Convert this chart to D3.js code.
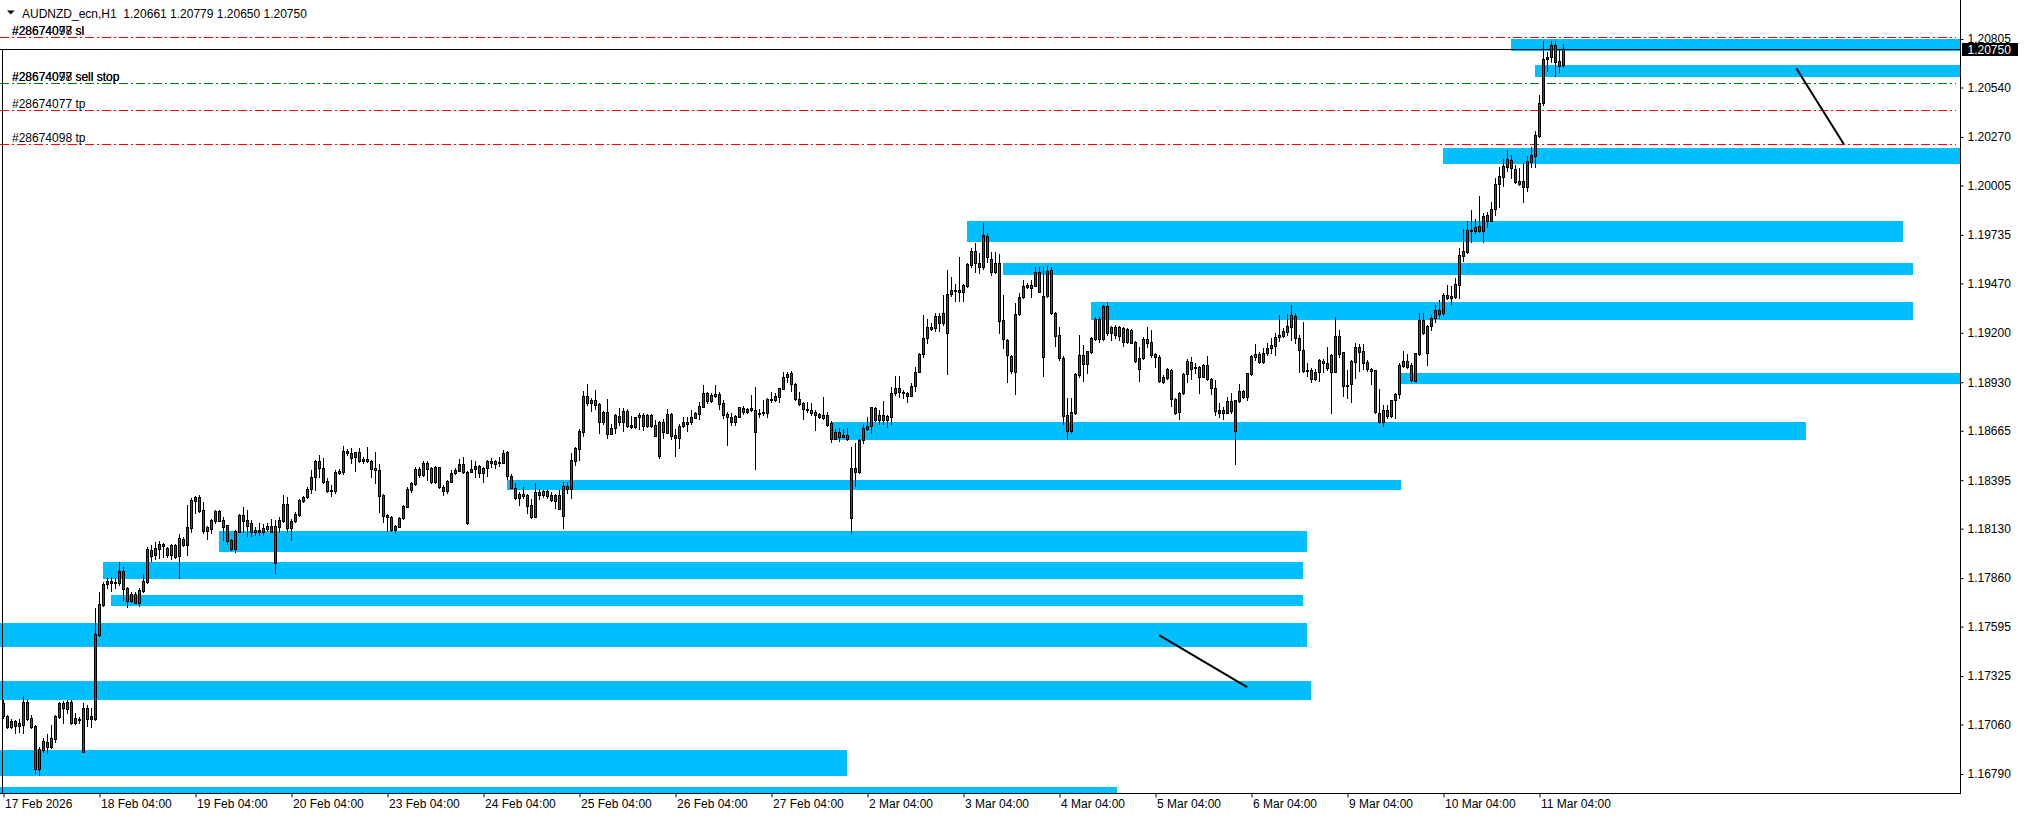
<!DOCTYPE html>
<html>
<head>
<meta charset="utf-8">
<script src="https://cdn.jsdelivr.net/npm/d3@7"></script>
<style>
body { margin: 0; background: #fff; }
svg { display: block; font-family: "Liberation Sans", Arial, sans-serif; font-size: 12px; }
</style>
</head>
<body>
<svg id="chart" width="2024" height="817"></svg>
<script>
// AUDNZD_ecn H1, 391 bars from 17 Feb 04:00 to 11 Mar 10:00
const open = [
1.17176,1.17108,1.17048,1.17080,1.17054,1.17059,1.17183,1.17094,1.17052,1.16815,
1.16921,1.16937,1.16939,1.16983,1.17103,1.17176,1.17147,1.17183,1.17067,1.17087,
1.16912,1.17149,1.17092,1.17090,1.17549,1.17713,1.17826,1.17835,1.17840,1.17831,
1.17899,1.17806,1.17737,1.17773,1.17726,1.17791,1.17840,1.18013,1.17986,1.18019,
1.18035,1.18024,1.17988,1.18041,1.17982,1.18075,1.18043,1.18136,1.18283,1.18305,
1.18232,1.18119,1.18130,1.18174,1.18227,1.18177,1.18150,1.18068,1.18021,1.18114,
1.18205,1.18177,1.18159,1.18114,1.18123,1.18114,1.18130,1.18147,1.17944,1.18141,
1.18174,1.18265,1.18136,1.18172,1.18205,1.18283,1.18302,1.18347,1.18411,1.18500,
1.18460,1.18392,1.18338,1.18337,1.18436,1.18442,1.18554,1.18542,1.18520,1.18549,
1.18509,1.18500,1.18500,1.18459,1.18451,1.18314,1.18205,1.18192,1.18123,1.18141,
1.18188,1.18250,1.18341,1.18374,1.18454,1.18423,1.18487,1.18460,1.18387,1.18465,
1.18357,1.18337,1.18387,1.18432,1.18447,1.18482,1.18159,1.18442,1.18454,1.18472,
1.18436,1.18460,1.18487,1.18498,1.18491,1.18490,1.18547,1.18420,1.18354,1.18296,
1.18320,1.18313,1.18259,1.18196,1.18314,1.18314,1.18336,1.18314,1.18283,1.18314,
1.18201,1.18363,1.18348,1.18501,1.18565,1.18660,1.18855,1.18818,1.18833,1.18811,
1.18711,1.18767,1.18649,1.18678,1.18746,1.18714,1.18771,1.18687,1.18687,1.18738,
1.18751,1.18693,1.18749,1.18696,1.18528,1.18712,1.18654,1.18755,1.18642,1.18627,
1.18689,1.18702,1.18711,1.18736,1.18756,1.18796,1.18871,1.18827,1.18857,1.18868,
1.18817,1.18756,1.18742,1.18714,1.18742,1.18789,1.18769,1.18778,1.18778,1.18756,
1.18760,1.18764,1.18833,1.18833,1.18851,1.18895,1.18957,1.18979,1.18920,1.18837,
1.18815,1.18782,1.18778,1.18767,1.18755,1.18736,1.18749,1.18707,1.18622,1.18659,
1.18642,1.18642,1.18190,1.18460,1.18442,1.18614,1.18675,1.18693,1.18789,1.18724,
1.18751,1.18724,1.18742,1.18870,1.18897,1.18875,1.18871,1.18857,1.18911,1.18988,
1.19083,1.19173,1.19230,1.19228,1.19294,1.19252,1.19201,1.19412,1.19434,1.19425,
1.19425,1.19457,1.19570,1.19647,1.19580,1.19558,1.19729,1.19605,1.19534,1.19583,
1.19270,1.19161,1.19074,1.18988,1.19301,1.19393,1.19452,1.19461,1.19457,1.19534,
1.19070,1.19401,1.19543,1.19307,1.19188,1.19064,1.18751,1.18662,1.18760,1.18969,
1.19079,1.19028,1.19097,1.19166,1.19274,1.19166,1.19346,1.19197,1.19230,1.19184,
1.19228,1.19152,1.19215,1.19150,1.19001,1.19061,1.19166,1.19150,1.19083,1.19070,
1.18933,1.18955,1.18997,1.18837,1.18769,1.18870,1.18975,1.19042,1.19006,1.19013,
1.18960,1.19024,1.18948,1.18897,1.18778,1.18764,1.18764,1.18827,1.18665,1.18829,
1.18882,1.18848,1.18975,1.19070,1.19084,1.19042,1.19088,1.19115,1.19130,1.19176,
1.19184,1.19206,1.19233,1.19292,1.19170,1.19106,1.18997,1.18997,1.18946,1.18988,
1.19046,1.19033,1.18988,1.18988,1.19182,1.19094,1.18911,1.18919,1.19042,1.19124,
1.19101,1.19039,1.19002,1.18997,1.18764,1.18714,1.18778,1.18747,1.18833,1.18866,
1.19020,1.19046,1.19024,1.18938,1.19083,1.19270,1.19088,1.19237,1.19281,1.19325,
1.19308,1.19407,1.19401,1.19397,1.19461,1.19621,1.19640,1.19762,1.19758,1.19783,
1.19758,1.19844,1.19813,1.19876,1.20011,1.20053,1.20107,1.20144,1.20095,1.20029,
1.20029,1.19995,1.20135,1.20167,1.20277,1.20454,1.20694,1.20705,1.20772,1.20685,
1.20661];

const high = [
1.17194,1.17115,1.17090,1.17085,1.17090,1.17216,1.17194,1.17112,1.17055,1.16937,
1.16987,1.17007,1.17058,1.17112,1.17185,1.17189,1.17194,1.17194,1.17121,1.17103,
1.17179,1.17167,1.17149,1.17695,1.17782,1.17840,1.17868,1.17868,1.17859,1.17948,
1.17921,1.17813,1.17784,1.17784,1.17806,1.17882,1.18032,1.18041,1.18059,1.18064,
1.18050,1.18032,1.18046,1.18046,1.18101,1.18083,1.18259,1.18296,1.18309,1.18314,
1.18276,1.18145,1.18181,1.18232,1.18232,1.18196,1.18152,1.18073,1.18123,1.18208,
1.18250,1.18232,1.18177,1.18141,1.18159,1.18155,1.18159,1.18181,1.18177,1.18196,
1.18314,1.18301,1.18183,1.18223,1.18292,1.18309,1.18358,1.18451,1.18505,1.18533,
1.18514,1.18405,1.18368,1.18451,1.18454,1.18582,1.18565,1.18569,1.18551,1.18569,
1.18523,1.18578,1.18505,1.18551,1.18483,1.18319,1.18210,1.18199,1.18150,1.18196,
1.18259,1.18356,1.18387,1.18469,1.18465,1.18501,1.18500,1.18469,1.18472,1.18469,
1.18368,1.18396,1.18451,1.18460,1.18510,1.18520,1.18445,1.18505,1.18500,1.18478,
1.18467,1.18505,1.18514,1.18505,1.18520,1.18560,1.18554,1.18429,1.18378,1.18332,
1.18360,1.18320,1.18291,1.18378,1.18345,1.18341,1.18341,1.18330,1.18319,1.18341,
1.18387,1.18384,1.18542,1.18578,1.18675,1.18882,1.18920,1.18842,1.18888,1.18817,
1.18773,1.18837,1.18702,1.18755,1.18788,1.18788,1.18782,1.18746,1.18742,1.18760,
1.18760,1.18756,1.18756,1.18724,1.18718,1.18727,1.18784,1.18764,1.18673,1.18702,
1.18742,1.18742,1.18778,1.18767,1.18824,1.18915,1.18878,1.18873,1.18915,1.18878,
1.18833,1.18769,1.18764,1.18751,1.18796,1.18800,1.18788,1.18860,1.18906,1.18782,
1.18833,1.18844,1.18876,1.18870,1.18900,1.18985,1.18988,1.18992,1.18926,1.18877,
1.18824,1.18824,1.18815,1.18778,1.18764,1.18851,1.18766,1.18716,1.18673,1.18678,
1.18673,1.18678,1.18578,1.18600,1.18620,1.18702,1.18742,1.18796,1.18796,1.18778,
1.18827,1.18751,1.18906,1.18964,1.18964,1.18888,1.18878,1.18924,1.19015,1.19088,
1.19297,1.19276,1.19252,1.19310,1.19306,1.19406,1.19543,1.19507,1.19465,1.19616,
1.19465,1.19583,1.19662,1.19689,1.19634,1.19798,1.19743,1.19643,1.19643,1.19630,
1.19406,1.19166,1.19079,1.19361,1.19416,1.19489,1.19474,1.19489,1.19561,1.19561,
1.19561,1.19565,1.19561,1.19314,1.19233,1.19073,1.18842,1.18842,1.18979,1.19188,
1.19133,1.19103,1.19179,1.19285,1.19288,1.19352,1.19370,1.19237,1.19243,1.19237,
1.19233,1.19228,1.19219,1.19157,1.19124,1.19176,1.19233,1.19215,1.19088,1.19079,
1.18969,1.19006,1.19002,1.18842,1.18875,1.18979,1.19055,1.19070,1.19033,1.19020,
1.19030,1.19073,1.18951,1.18942,1.18815,1.18793,1.18851,1.18870,1.18835,1.18920,
1.18888,1.18982,1.19079,1.19137,1.19097,1.19115,1.19146,1.19170,1.19197,1.19297,
1.19225,1.19303,1.19352,1.19306,1.19188,1.19261,1.19033,1.19006,1.19002,1.19055,
1.19055,1.19124,1.19083,1.19285,1.19215,1.19097,1.18997,1.19051,1.19143,1.19139,
1.19139,1.19051,1.19006,1.18999,1.18893,1.18806,1.18806,1.18835,1.18873,1.19033,
1.19101,1.19083,1.19033,1.19091,1.19306,1.19306,1.19243,1.19297,1.19352,1.19379,
1.19417,1.19461,1.19456,1.19498,1.19662,1.19767,1.19812,1.19871,1.19820,1.19947,
1.19856,1.19858,1.19916,1.20044,1.20107,1.20148,1.20199,1.20171,1.20117,1.20099,
1.20126,1.20166,1.20217,1.20302,1.20499,1.20796,1.20736,1.20794,1.20794,1.20749,
1.20779];

const low = [
1.17096,1.17041,1.17041,1.17012,1.17021,1.17015,1.17085,1.17041,1.16794,1.16785,
1.16910,1.16906,1.16932,1.16966,1.17098,1.17070,1.17121,1.17063,1.17063,1.17067,
1.16910,1.17054,1.17048,1.17085,1.17543,1.17708,1.17804,1.17791,1.17804,1.17822,
1.17740,1.17704,1.17731,1.17722,1.17708,1.17784,1.17833,1.17955,1.17964,1.17972,
1.17977,1.17977,1.17967,1.17972,1.17862,1.18035,1.17986,1.18114,1.18216,1.18221,
1.18109,1.18072,1.18109,1.18159,1.18172,1.18068,1.18046,1.18013,1.18004,1.18112,
1.18114,1.18090,1.18092,1.18096,1.18096,1.18096,1.18119,1.18112,1.17886,1.18114,
1.18166,1.18114,1.18068,1.18166,1.18199,1.18274,1.18298,1.18324,1.18341,1.18414,
1.18380,1.18330,1.18310,1.18324,1.18429,1.18427,1.18533,1.18487,1.18445,1.18494,
1.18490,1.18494,1.18414,1.18381,1.18223,1.18165,1.18119,1.18120,1.18105,1.18139,
1.18183,1.18248,1.18332,1.18369,1.18414,1.18418,1.18396,1.18380,1.18380,1.18352,
1.18314,1.18324,1.18385,1.18429,1.18445,1.18434,1.18155,1.18440,1.18411,1.18411,
1.18387,1.18420,1.18469,1.18460,1.18474,1.18489,1.18401,1.18352,1.18290,1.18259,
1.18296,1.18214,1.18190,1.18194,1.18290,1.18305,1.18296,1.18281,1.18241,1.18238,
1.18136,1.18324,1.18299,1.18478,1.18505,1.18636,1.18806,1.18775,1.18782,1.18654,
1.18702,1.18627,1.18647,1.18651,1.18696,1.18665,1.18684,1.18678,1.18678,1.18673,
1.18669,1.18684,1.18687,1.18636,1.18516,1.18627,1.18653,1.18618,1.18527,1.18571,
1.18685,1.18664,1.18702,1.18733,1.18729,1.18795,1.18815,1.18822,1.18851,1.18784,
1.18736,1.18587,1.18696,1.18696,1.18740,1.18756,1.18760,1.18773,1.18456,1.18742,
1.18751,1.18742,1.18824,1.18828,1.18824,1.18893,1.18933,1.18884,1.18833,1.18806,
1.18729,1.18769,1.18751,1.18669,1.18735,1.18727,1.18691,1.18605,1.18620,1.18611,
1.18631,1.18614,1.18105,1.18365,1.18436,1.18600,1.18669,1.18654,1.18718,1.18702,
1.18702,1.18687,1.18702,1.18860,1.18851,1.18845,1.18824,1.18855,1.18884,1.18985,
1.19070,1.19146,1.19215,1.19210,1.19210,1.19243,1.18975,1.19401,1.19375,1.19375,
1.19375,1.19450,1.19561,1.19534,1.19525,1.19550,1.19585,1.19516,1.19525,1.19197,
1.19115,1.18933,1.18979,1.18864,1.19297,1.19391,1.19447,1.19398,1.19456,1.19423,
1.18966,1.19394,1.19303,1.19130,1.19051,1.18700,1.18622,1.18653,1.18756,1.18960,
1.18937,1.18982,1.19091,1.19161,1.19148,1.19161,1.19188,1.19161,1.19170,1.19161,
1.19128,1.19146,1.19143,1.19042,1.18938,1.19055,1.19124,1.19066,1.19015,1.18933,
1.18924,1.18946,1.18800,1.18755,1.18729,1.18866,1.18933,1.18946,1.18979,1.18873,
1.18957,1.18942,1.18866,1.18751,1.18742,1.18729,1.18760,1.18764,1.18483,1.18824,
1.18842,1.18833,1.18969,1.19051,1.19037,1.19033,1.19079,1.19088,1.19079,1.19157,
1.19179,1.19188,1.19161,1.19146,1.18988,1.18988,1.18966,1.18933,1.18942,1.18938,
1.18988,1.18997,1.18764,1.18985,1.19070,1.18855,1.18845,1.18824,1.18955,1.18993,
1.19002,1.18993,1.18919,1.18760,1.18709,1.18693,1.18733,1.18742,1.18733,1.18842,
1.19015,1.19008,1.18938,1.18937,1.19079,1.19194,1.19024,1.19215,1.19259,1.19281,
1.19297,1.19383,1.19357,1.19388,1.19388,1.19594,1.19636,1.19698,1.19743,1.19751,
1.19698,1.19776,1.19811,1.19844,1.19889,1.20004,1.20086,1.20044,1.20020,1.20007,
1.19916,1.19976,1.20107,1.20107,1.20271,1.20444,1.20632,1.20681,1.20605,1.20626,
1.20650];

const close = [
1.17108,1.17048,1.17080,1.17054,1.17070,1.17183,1.17092,1.17048,1.16815,1.16925,
1.16968,1.16965,1.16985,1.17107,1.17176,1.17152,1.17183,1.17067,1.17094,1.17092,
1.17149,1.17092,1.17107,1.17553,1.17717,1.17828,1.17844,1.17844,1.17831,1.17899,
1.17802,1.17737,1.17773,1.17726,1.17795,1.17844,1.18019,1.17982,1.18023,1.18046,
1.18045,1.17984,1.18043,1.17977,1.18077,1.18041,1.18141,1.18287,1.18305,1.18227,
1.18119,1.18141,1.18177,1.18227,1.18174,1.18141,1.18064,1.18021,1.18116,1.18205,
1.18174,1.18147,1.18114,1.18123,1.18114,1.18136,1.18147,1.18114,1.18147,1.18177,
1.18265,1.18136,1.18172,1.18210,1.18287,1.18305,1.18347,1.18411,1.18501,1.18460,
1.18387,1.18337,1.18344,1.18438,1.18445,1.18554,1.18542,1.18518,1.18549,1.18501,
1.18501,1.18510,1.18454,1.18453,1.18310,1.18201,1.18192,1.18123,1.18145,1.18188,
1.18254,1.18348,1.18378,1.18454,1.18423,1.18487,1.18456,1.18387,1.18465,1.18360,
1.18337,1.18391,1.18432,1.18451,1.18482,1.18438,1.18438,1.18456,1.18472,1.18436,
1.18460,1.18498,1.18498,1.18485,1.18497,1.18542,1.18420,1.18354,1.18296,1.18320,
1.18309,1.18256,1.18196,1.18329,1.18329,1.18336,1.18310,1.18287,1.18314,1.18239,
1.18363,1.18345,1.18505,1.18569,1.18664,1.18855,1.18818,1.18833,1.18806,1.18711,
1.18767,1.18649,1.18678,1.18749,1.18714,1.18771,1.18693,1.18696,1.18738,1.18751,
1.18693,1.18751,1.18693,1.18638,1.18712,1.18660,1.18755,1.18638,1.18627,1.18689,
1.18712,1.18714,1.18740,1.18760,1.18800,1.18871,1.18827,1.18860,1.18868,1.18811,
1.18751,1.18738,1.18714,1.18746,1.18793,1.18769,1.18784,1.18789,1.18660,1.18764,
1.18767,1.18839,1.18839,1.18855,1.18897,1.18961,1.18975,1.18919,1.18837,1.18809,
1.18782,1.18778,1.18764,1.18753,1.18738,1.18749,1.18698,1.18622,1.18659,1.18633,
1.18633,1.18618,1.18460,1.18442,1.18614,1.18678,1.18693,1.18793,1.18724,1.18751,
1.18724,1.18746,1.18870,1.18897,1.18875,1.18870,1.18857,1.18911,1.18988,1.19083,
1.19170,1.19230,1.19222,1.19294,1.19252,1.19306,1.19412,1.19434,1.19428,1.19434,
1.19461,1.19576,1.19647,1.19580,1.19558,1.19734,1.19612,1.19534,1.19583,1.19266,
1.19165,1.19077,1.18991,1.19301,1.19398,1.19456,1.19461,1.19447,1.19534,1.19425,
1.19401,1.19539,1.19307,1.19182,1.19061,1.18747,1.18662,1.18766,1.18975,1.19079,
1.19028,1.19101,1.19170,1.19274,1.19166,1.19346,1.19201,1.19230,1.19188,1.19230,
1.19152,1.19221,1.19146,1.19048,1.19061,1.19166,1.19146,1.19079,1.19066,1.18938,
1.18957,1.19002,1.18837,1.18764,1.18870,1.18975,1.19046,1.19001,1.19013,1.18960,
1.19024,1.18946,1.18897,1.18775,1.18764,1.18778,1.18827,1.18775,1.18833,1.18882,
1.18848,1.18979,1.19073,1.19084,1.19042,1.19088,1.19119,1.19133,1.19179,1.19188,
1.19212,1.19237,1.19297,1.19170,1.19106,1.18993,1.18991,1.18946,1.18988,1.19051,
1.19033,1.19009,1.19079,1.19182,1.19083,1.18911,1.18917,1.19046,1.19124,1.19097,
1.19033,1.19001,1.18993,1.18766,1.18714,1.18778,1.18747,1.18833,1.18866,1.19024,
1.19046,1.19015,1.18942,1.19088,1.19270,1.19197,1.19237,1.19281,1.19325,1.19303,
1.19407,1.19392,1.19392,1.19467,1.19625,1.19649,1.19762,1.19756,1.19776,1.19758,
1.19838,1.19813,1.19876,1.20013,1.20057,1.20111,1.20148,1.20099,1.20025,1.20013,
1.19998,1.20138,1.20171,1.20281,1.20457,1.20694,1.20705,1.20772,1.20681,1.20659,
1.20750];

// time axis: bar index of each label
const timeTicks = [0, 24, 48, 72, 96, 120, 144, 168, 192, 216, 240, 264, 288, 312, 336, 360, 384];
const timeLabels = ["17 Feb 2026", "18 Feb 04:00", "19 Feb 04:00", "20 Feb 04:00", "23 Feb 04:00",
  "24 Feb 04:00", "25 Feb 04:00", "26 Feb 04:00", "27 Feb 04:00", "2 Mar 04:00", "3 Mar 04:00",
  "4 Mar 04:00", "5 Mar 04:00", "6 Mar 04:00", "9 Mar 04:00", "10 Mar 04:00", "11 Mar 04:00"];

const priceTicks = [1.20805, 1.20540, 1.20270, 1.20005, 1.19735, 1.19470, 1.19200, 1.18930,
  1.18665, 1.18395, 1.18130, 1.17860, 1.17595, 1.17325, 1.17060, 1.16790];

// blue zones: start / end bar, top / bottom price
const zoneFrom = [377, 383, 360, 241, 250, 272, 349.5, 207.2, 126, 54, 25, 27, -3, -3, -3, -3];
const zoneTo   = [500, 500, 500, 475, 477.6, 477.6, 500, 450.6, 349.6, 326, 325, 325, 326, 327, 210.9, 278.6];
const zoneTop  = [1.20805, 1.20663, 1.20210, 1.19811, 1.19581, 1.19368, 1.18980, 1.18713,
  1.18396, 1.18117, 1.17948, 1.17768, 1.17615, 1.17298, 1.16921, 1.16720];
const zoneBot  = [1.20739, 1.20599, 1.20124, 1.19696, 1.19516, 1.19270, 1.18920, 1.18614,
  1.18341, 1.18003, 1.17857, 1.17709, 1.17484, 1.17194, 1.16779, 1.16640];

// order levels
const levelPrice = [1.20814, 1.20563, 1.20417, 1.20230];
const levelColor = ["#ff0000", "#008000", "#ff0000", "#ff0000"];
const levelText  = [["#28674098 sl", "#28674077 sl"], ["#28674098 sell stop", "#28674077 sell stop"],
  ["#28674077 tp"], ["#28674098 tp"]];

const bid = 1.20750;

// trend lines: [bar, price] pairs
const trendFrom = [[448.2, 1.20645], [288.9, 1.17549]];
const trendTo   = [[460.1, 1.20230], [310.9, 1.17265]];

const svg = d3.select("#chart");
const plotRight = 1960.5, plotBottom = 793.5;

const x = d3.scaleLinear().domain([0, 390]).range([3.5, 1563.5]);
const y = d3.scaleLinear().domain([1.16790, 1.20805]).range([774, 39]);

svg.append("clipPath").attr("id", "plot")
  .append("rect").attr("x", 0).attr("y", 0).attr("width", plotRight).attr("height", plotBottom);

const plot = svg.append("g").attr("clip-path", "url(#plot)");

// zones in the background
plot.selectAll(".zone")
  .data(d3.range(zoneFrom.length))
  .enter()
  .append("rect")
    .attr("class", "zone")
    .attr("x", i => Math.round(x(zoneFrom[i]) - 0.5))
    .attr("y", i => Math.round(y(zoneTop[i])))
    .attr("width", i => Math.round(x(zoneTo[i]) - x(zoneFrom[i])))
    .attr("height", i => Math.round(y(zoneBot[i]) - y(zoneTop[i])))
    .attr("fill", "#00bfff");

// order levels
levelPrice.forEach((p, k) => {
  const ly = Math.round(y(p)) + 0.5;
  plot.append("line")
    .attr("x1", 0).attr("x2", 1956)
    .attr("y1", ly).attr("y2", ly)
    .attr("stroke", levelColor[k])
    .attr("stroke-dasharray", "9,3,2,3");
  levelText[k].forEach(t => {
    svg.append("text")
      .attr("x", 12).attr("y", ly - 2.5)
      .attr("fill", "#000")
      .text(t);
  });
});

// bid line
const by = Math.round(y(bid)) + 0.5;
plot.append("line")
  .attr("x1", 0).attr("x2", plotRight)
  .attr("y1", by).attr("y2", by)
  .attr("stroke", "#000");

// candles
const bars = plot.append("g").attr("shape-rendering", "crispEdges");
const idx = d3.range(open.length);

bars.selectAll(".wick")
  .data(idx)
  .enter()
  .append("line")
    .attr("class", "wick")
    .attr("x1", i => x(i)).attr("x2", i => x(i))
    .attr("y1", i => Math.round(y(high[i])))
    .attr("y2", i => Math.round(y(low[i])) + 1)
    .attr("stroke", "#000");

idx.forEach(i => {
  const top = Math.round(y(Math.max(open[i], close[i])));
  const bot = Math.round(y(Math.min(open[i], close[i])));
  const cx = x(i);
  if (bot - top >= 1) {
    bars.append("rect")
      .attr("x", cx - 1).attr("y", top + 0.5)
      .attr("width", 2).attr("height", bot - top)
      .attr("fill", close[i] >= open[i] ? "#008000" : "#ff0000")
      .attr("stroke", "#000");
  } else {
    bars.append("line")
      .attr("x1", cx - 1.5).attr("x2", cx + 1.5)
      .attr("y1", top + 0.5).attr("y2", top + 0.5)
      .attr("stroke", "#000");
  }
});

// trend lines
plot.selectAll(".trend")
  .data(d3.range(trendFrom.length))
  .enter()
  .append("line")
    .attr("class", "trend")
    .attr("x1", k => x(trendFrom[k][0])).attr("y1", k => y(trendFrom[k][1]))
    .attr("x2", k => x(trendTo[k][0])).attr("y2", k => y(trendTo[k][1]))
    .attr("stroke", "#000")
    .attr("stroke-width", 2);

// frame
svg.append("line").attr("x1", 2.5).attr("x2", 2.5).attr("y1", by).attr("y2", plotBottom).attr("stroke", "#000");
svg.append("line").attr("x1", 0).attr("x2", plotRight).attr("y1", plotBottom).attr("y2", plotBottom).attr("stroke", "#000");
svg.append("line").attr("x1", plotRight).attr("x2", plotRight).attr("y1", 0).attr("y2", plotBottom + 0.5).attr("stroke", "#000");

// price axis
const yAxis = svg.append("g")
  .attr("transform", `translate(${plotRight},0)`)
  .call(d3.axisRight(y).tickValues(priceTicks).tickSize(3).tickPadding(4).tickFormat(d3.format(".5f")));
yAxis.select(".domain").remove();
yAxis.selectAll("text").attr("font-size", "12px").attr("font-family", "Liberation Sans, Arial, sans-serif").attr("fill", "#000");
yAxis.selectAll(".tick line").attr("stroke", "#000");

// current price box
svg.append("rect")
  .attr("x", 1962).attr("y", Math.round(y(bid)) - 6)
  .attr("width", 56).attr("height", 13)
  .attr("fill", "#000");
svg.append("text")
  .attr("x", 1967.5).attr("y", y(bid) + 4.5)
  .attr("fill", "#fff")
  .text(d3.format(".5f")(bid));

// time axis
const xAxis = svg.append("g")
  .attr("transform", `translate(0,${plotBottom})`)
  .call(d3.axisBottom(x).tickValues(timeTicks).tickSize(4).tickPadding(2)
    .tickFormat((d, i) => timeLabels[i]));
xAxis.select(".domain").remove();
xAxis.selectAll("text")
  .attr("text-anchor", "start")
  .attr("dx", "1")
  .attr("font-size", "12px")
  .attr("font-family", "Liberation Sans, Arial, sans-serif")
  .attr("fill", "#000");
xAxis.selectAll(".tick line").attr("stroke", "#000");

// header
svg.append("path").attr("d", "M7,10.5 L14.5,10.5 L10.75,14.5 Z").attr("fill", "#000");
svg.append("text")
  .attr("x", 22).attr("y", 18)
  .attr("fill", "#000")
  .style("white-space", "pre")
  .text("AUDNZD_ecn,H1  " + [open[390], high[390], low[390], close[390]].map(d3.format(".5f")).join(" "));
</script>
</body>
</html>
